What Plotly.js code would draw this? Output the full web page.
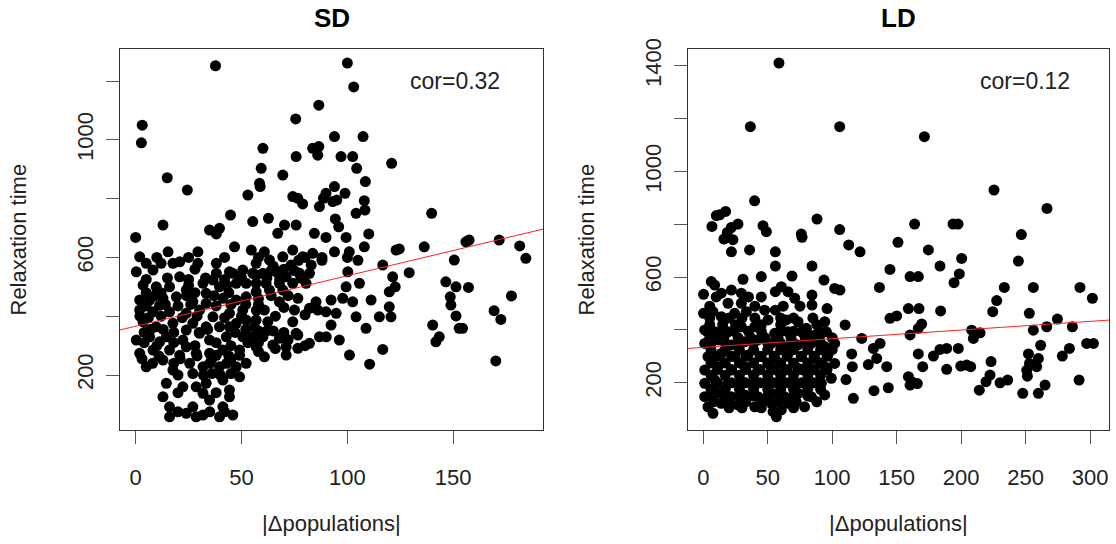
<!DOCTYPE html>
<html>
<head>
<meta charset="utf-8">
<script src="https://cdn.plot.ly/plotly-3.0.1.min.js"></script>
<style>html,body{margin:0;padding:0;background:#fff;}#chart{width:1116px;height:544px;}</style>
</head>
<body>
<div id="chart"></div>
<script>
// ---- SD panel data ----
const sdX = [
37.7,100,103,86.5,75.6,93.9,107.4,3.1,2.7,60.1,
83.6,86.5,86,75.8,97,102.5,120.9,104.4,59.3,69.5,
14.9,108.5,58.5,58.8,24.4,93.9,53,74.2,76.6,78.9,
89.9,88.7,86.8,98.9,95,93.1,108,108.3,104.1,44.8,
55.3,62.7,12.9,70.3,75.8,94.3,95.9,139.8,34.9,39.6,
38.1,0,67.1,84.4,89.9,99.4,110.1,
124.5,129.2,136.3,140.3,141.8,143.4,146.5,148.6,148.9,150.5,151.3,151.3,
152.8,154.4,156,157.2,157.5,169.3,170.1,171.7,172.5,177.5,181.4,184.3,
54.6,60.8,74.2,78.9,83.6,93.9,100.9,108,123,56.9,
63.2,69.5,73.4,82.9,116.7,55.3,60.1,66.4,71.1,77.4,
82.1,100.2,121.4,56.9,61.6,67.9,74.2,80.5,99.4,105.7,
119.8,56.9,63.2,69.5,76.6,97.8,102.5,111.2,119.8,67.9,
85.2,92.3,82.1,86,89.9,94.7,60.8,75,104.1,115.1,
120.6,56.9,62.4,74.2,92.3,108.8,56.1,75.8,55.3,60.1,
67.9,76.6,86.8,90,96.2,56.9,64.8,71.1,82.1,76.6,
60.8,71.1,101,116.7,110.5,122.6,
1.9,15.3,29.4,20.8,17.6,29.4,38.1,46.7,44.3,0.3,
8.2,20.8,38.1,45.9,50.6,3.5,9.7,16,23.9,31.8,
33.3,39.6,47.5,52.2,1.9,6.6,12.9,19.2,27,33.3,
41.2,47.5,52.2,1.9,8.2,16,23.9,30.2,36.5,44.3,
50.6,3.5,9.7,17.6,27,33.3,39.6,47.5,52.2,0.3,
6.6,14.5,22.3,30.2,34.9,42.8,50.6,1.9,8.2,16,
23.9,28.6,34.9,41.2,49.1,5,12.9,17.6,25.5,31.8,
39.6,47.5,52.2,14.5,22.3,28.6,33.3,41.2,44.3,49.1,
12.9,16,27,31.8,34.9,41.2,44.3,16,23.9,28.6,
31.8,39.6,45.9,11.3,36.5,23.9,44.3,11.3,20.8,38.1,
49.1
];
const sdY = [
1252,1261,1180,1118,1071,1011,1011,1050,990,971,
971,977,948,943,943,943,920,903,903,880,
871,858,852,841,829,841,812,807,801,782,
818,801,773,818,795,790,793,761,750,744,
722,733,710,710,710,731,704,750,693,699,
680,668,682,682,668,668,680,
629,548,636,370,313,330,517,466,438,591,500,401,
359,359,653,498,659,419,248,659,389,469,639,597,
625,619,625,602,614,619,619,636,625,580,
591,602,574,574,574,546,546,551,534,546,
546,551,534,512,512,512,512,512,500,512,
483,483,489,489,461,461,449,455,432,449,
449,455,427,421,415,410,421,421,398,398,
398,387,381,381,370,359,364,342,330,330,
325,336,330,330,319,296,302,296,308,291,
262,268,268,287,237,500,
602,619,619,585,580,580,580,636,551,551,
557,534,546,546,557,506,500,500,489,512,
478,500,512,512,455,455,461,466,449,444,
461,455,466,421,415,415,410,421,398,410,
421,381,364,376,376,364,364,376,387,319,
330,330,319,342,319,330,330,274,285,285,
296,274,274,285,285,228,251,217,240,228,
228,228,240,172,160,160,172,183,149,194,
126,92,92,138,115,92,126,58,70,58,
64,58,64,437,523,353,364,313,267,267,
267
];
// points inside the dense SD cluster
const sdDenseX = [
10,25,42,5,12,28,44,5,20,38,6,22,42,4,18,30,47,10,28,45,3,21,36,45,20,32,40,20,38,20,35,42,5,25,42,28,
58,65,70,77,88,62,68,78,58,64,72,58,66,80,58,65,72,58,100,105,88,
5,12,15,33,50,25,43,9,24,37,14,26,45,52,2,12,29,50,7,13,34,52,4,18,38,53,11,29,44,8,18,35,43,27,36,45,
57,64,75,80,57,70,62,70,80,66,58
];
const sdDenseY = [
600,600,600,480,480,480,480,435,435,435,395,395,395,345,345,345,345,300,300,300,255,255,255,255,200,200,200,140,140,75,75,75,525,525,525,560,
600,570,560,590,600,530,525,530,460,470,470,440,400,405,350,350,320,310,600,590,590,
580,580,530,530,530,505,505,470,470,470,440,440,440,440,400,400,400,400,355,355,355,355,310,310,310,310,265,265,265,240,240,240,240,205,205,205,
540,555,555,600,420,430,350,345,300,290,280
];
// ---- LD panel data ----
const ldX = [
58.7,36.5,105.8,171.5,225.5,266.6,39.8,17.3,12.7,10.1,
6.7,26.9,21.7,18.6,16,23,46.3,48.9,76,76.6,
88.2,105.8,112.8,151,163.9,193.7,197.6,246.7,
121.6,174.6,144.8,200.4,183.6,244.4,160.4,166.8,198.6,194.5,
136.6,233.5,256,292.2,301.8,227.6,224.5,106,159.1,167.3,
184.1,252.9,144.8,150,110,169.4,166.8,160.4,208.2,214.7,
209.5,256,266.4,274.7,286.3,122.9,137.1,131.9,261.7,284,
278.5,297.4,302.6,115.1,134.5,128,142.3,115.6,166.8,170.2,
178.5,183.6,188.8,197.8,188.8,199.7,204.3,207.4,223.2,252.2,
253,259.9,258.6,251.4,250.9,222.4,219.3,214.1,230.2,236.1,
247.8,259.9,265.1,291.5,159.1,161.6,166,160.4,110.7,116.4,
132.4,143.5,
21.8,35.9,55.9,55.9,84.3,45,68.8,30.8,6.2,8.8,
93.6,101.9,60.5,65.7,70.9,55.9,0.2,14,21.8,29.5,
84.3,84.3,96,19.2,29.5,0.2,7.5,14,24.3,33.4,
47.6,55.9,50.2,64.4,73.5,79.9,94.2,95.5,1.1,8.8,
19.2,29.5,39.9,55.4,65.7,76.1,86.4,
1.1,11.4,21.7,32.1,42.4,52.8,63.1,73.5,83.8,94.2,101.9,
3.6,14,24.3,34.7,45,55.4,65.7,76.1,86.4,96.7,
1.1,11.4,21.7,32.1,42.4,52.8,63.1,73.5,83.8,94.2,101.9,
1.1,8.8,19.2,29.5,39.9,50.2,60.5,70.9,81.2,91.6,99.3,
1.1,11.4,21.7,32.1,42.4,52.8,63.1,73.5,83.8,94.2,
3.6,14,26.9,39.9,52.8,65.7,78.6,
7.5,54.1,60.5,56.7
];
const ldY = [
1411,1170,1170,1132,930,860,889,849,836,833,
792,801,788,769,744,742,795,772,763,751,
820,780,722,732,801,801,801,761,
696,703,629,671,642,661,602,602,612,579,
561,561,561,561,520,511,469,551,481,481,
472,463,444,453,419,422,406,381,399,389,
368,399,412,441,412,368,349,330,342,330,
301,349,349,309,292,269,261,261,309,261,
301,326,330,330,251,263,267,261,280,309,
273,292,261,225,247,229,204,172,200,210,
160,160,191,210,223,204,197,191,212,141,
170,181,
696,703,696,642,642,602,604,592,583,570,
589,557,564,545,520,545,535,539,551,539,
532,494,481,501,501,463,469,450,463,469,
475,475,438,438,431,406,431,393,400,393,
393,412,412,387,393,393,380,
349,362,343,355,362,349,337,343,349,337,349,
299,311,299,305,299,292,311,299,292,305,
248,261,248,261,248,255,248,255,248,261,273,
198,211,198,204,198,211,198,198,211,198,217,
147,160,147,154,147,160,147,160,147,154,
109,122,116,109,122,122,109,
84,91,97,71
];
// points inside the dense LD cluster
const ldDenseX = [
6,17,28,39,50,60,70,81,91,100,
6,17,28,39,50,60,70,81,91,
6,17,28,39,50,60,70,81,91,
6,17,28,39,50,60,70,81,91,
8,20,33,46,58,72,88,
5,15,25,45,60,88,
5,16,27,37,48,58,68,79,90,100,
5,40,62,75,
10,35,45,
11,22,33,44,55,65,76,86,96,
11,22,33,44,55,65,76,86,96,
11,22,33,44,55,65,76,86,
6,17,28,39,50,60,70,81,
6,17,28,39,50,60,70,81,91,
3,14,24,35,45,60,70,80,90,
5,20,30,40,60,70,85,
20,30,45,70
];
const ldDenseY = [
325,325,325,325,325,325,325,325,325,325,
275,275,275,275,275,275,275,275,275,
228,228,228,228,228,228,228,228,228,
175,175,175,175,175,175,175,175,175,
128,128,128,128,128,128,128,
420,420,420,420,420,420,
370,370,370,370,370,370,370,370,370,370,
490,490,490,490,
525,525,525,
300,300,300,300,300,300,300,300,300,
250,250,250,250,250,250,250,250,250,
200,200,200,200,200,200,200,200,
150,150,150,150,150,150,150,150,
350,350,350,350,350,350,350,350,350,
395,395,395,395,395,395,395,395,395,
445,445,445,445,445,445,445,
105,105,105,105
];
// fitted lines: [intercept, slope]
const sdFit = [366, 1.717];
const ldFit = [334, 0.328];
const corLabels = ["cor=0.32", "cor=0.12"];
const panelTitles = ["SD", "LD"];
const sdXTicks = [0, 50, 100, 150];
const ldXTicks = [0, 50, 100, 150, 200, 250, 300];
const sdYTicks = [200, 400, 600, 800, 1000, 1200];
const sdYLabels = ["200", "", "600", "", "1000", ""];
const ldYTicks = [200, 400, 600, 800, 1000, 1200, 1400];
const ldYLabels = ["200", "", "600", "", "1000", "", "1400"];

const sdXRange = [-7.4, 192.4], sdYRange = [13, 1309];
const ldXRange = [-12.1, 314.7], ldYRange = [21, 1464];

const FONT = '"Liberation Sans", Arial, Helvetica, sans-serif';
const W = 1116, H = 544;
const yDom = [(H - 430) / H, (H - 49) / H];

function fitTrace(fit, range, xa, ya) {
  return {x: range, y: range.map(v => fit[0] + fit[1] * v), mode: 'lines',
    line: {color: '#ff2020', width: 1}, xaxis: xa, yaxis: ya, hoverinfo: 'skip'};
}
const mk = {color: '#000', size: 11};
const traces = [
  {x: sdX.concat(sdDenseX), y: sdY.concat(sdDenseY), mode: 'markers', marker: mk, xaxis: 'x', yaxis: 'y'},
  fitTrace(sdFit, sdXRange, 'x', 'y'),
  {x: ldX.concat(ldDenseX), y: ldY.concat(ldDenseY), mode: 'markers', marker: mk, xaxis: 'x2', yaxis: 'y2'},
  fitTrace(ldFit, ldXRange, 'x2', 'y2')
];
function xax(dom, range, ticks, anchor) {
  return {domain: dom, range: range, anchor: anchor, tickvals: ticks, ticktext: ticks.map(String),
    showgrid: false, zeroline: false, showline: true, mirror: true, linecolor: '#333', linewidth: 1,
    ticks: 'outside', ticklen: 13, tickcolor: '#555', tickwidth: 1, ticklabelstandoff: 15,
    tickfont: {family: FONT, size: 22, color: '#222'}};
}
function yax(range, ticks, labels, anchor) {
  return {domain: yDom, range: range, anchor: anchor, tickvals: ticks, ticktext: labels,
    showgrid: false, zeroline: false, showline: true, mirror: true, linecolor: '#333', linewidth: 1,
    ticks: 'outside', ticklen: 13, tickcolor: '#555', tickwidth: 1, tickangle: -90, ticklabelstandoff: 4,
    tickfont: {family: FONT, size: 22, color: '#222'}};
}
const ann = (text, x, y, size, extra) => Object.assign({text: text, x: x, y: y, xref: 'paper', yref: 'paper',
  showarrow: false, xanchor: 'center', yanchor: 'middle', font: {family: FONT, size: size, color: '#222'}}, extra || {});
const layout = {
  width: W, height: H, margin: {l: 0, r: 0, t: 0, b: 0}, showlegend: false,
  paper_bgcolor: '#fff', plot_bgcolor: '#fff',
  xaxis: xax([120 / W, 543 / W], sdXRange, sdXTicks, 'y'),
  yaxis: yax(sdYRange, sdYTicks, sdYLabels, 'x'),
  xaxis2: xax([687.7 / W, 1109 / W], ldXRange, ldXTicks, 'y2'),
  yaxis2: yax(ldYRange, ldYTicks, ldYLabels, 'x2'),
  annotations: [
    ann('<b>' + panelTitles[0] + '</b>', 331.5 / W, (H - 18) / H, 26, {font: {family: FONT, size: 26, color: '#000'}}),
    ann('<b>' + panelTitles[1] + '</b>', 898.4 / W, (H - 18) / H, 26, {font: {family: FONT, size: 26, color: '#000'}}),
    ann(corLabels[0], 455 / W, (H - 81) / H, 23),
    ann(corLabels[1], 1025 / W, (H - 81) / H, 23),
    ann('Relaxation time', 18 / W, (H - 239.5) / H, 22, {textangle: -90}),
    ann('Relaxation time', 586 / W, (H - 239.5) / H, 22, {textangle: -90}),
    ann('|\u0394populations|', 331.5 / W, (H - 523) / H, 22),
    ann('|\u0394populations|', 898.4 / W, (H - 523) / H, 22)
  ]
};
Plotly.newPlot('chart', traces, layout, {staticPlot: true, displayModeBar: false});
</script>
</body>
</html>
